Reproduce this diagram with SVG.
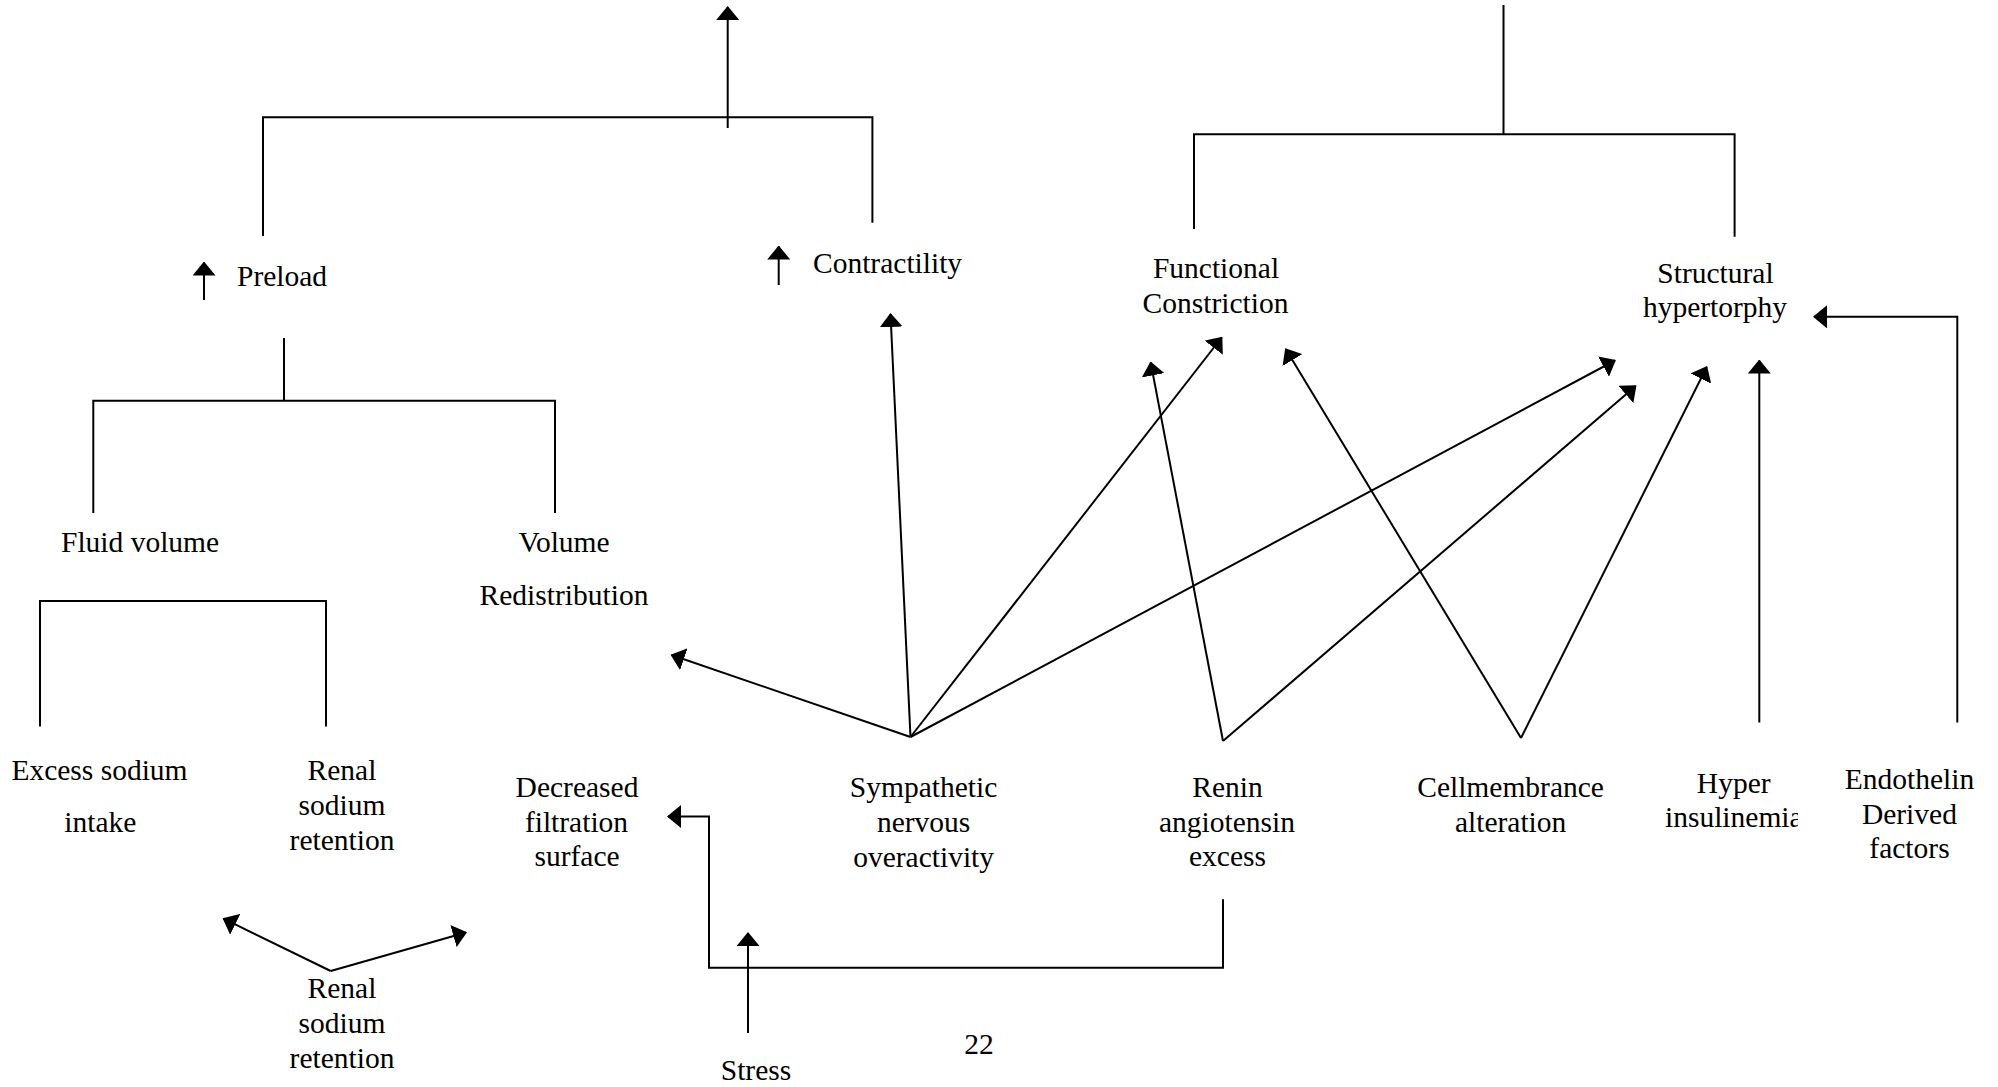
<svg xmlns="http://www.w3.org/2000/svg" width="1998" height="1087" viewBox="0 0 1998 1087">
<style>
text{font-family:"Liberation Serif","Times New Roman",serif;font-size:29.5px;fill:#000}
.m{text-anchor:middle}
.ln{fill:none;stroke:#000;stroke-width:2}
.ar{fill:none;stroke:#000;stroke-width:2;marker-end:url(#ah)}
</style>
<defs>
<marker id="ah" viewBox="0 0 14 23" refX="13" refY="11.5" markerWidth="14" markerHeight="23" markerUnits="userSpaceOnUse" orient="auto">
<path d="M0,0 L14,11.5 L0,23 Z" fill="#000"/>
</marker>
<clipPath id="clipHyper"><rect x="1600" y="760" width="198" height="90"/></clipPath>
</defs>
<rect width="1998" height="1087" fill="#fff"/>
<g id="connectors">
<path class="ar" d="M727.7,128 V7"/>
<path class="ln" d="M263,236 V117.3 H872.4 V222.7"/>
<path class="ar" d="M204,300 V262.5"/>
<path class="ar" d="M778.7,285 V246.5"/>
<path class="ln" d="M284,338 V400.7"/>
<path class="ln" d="M93.3,513 V400.7 H555 V513"/>
<path class="ln" d="M40,726.5 V601 H326 V726.5"/>
<path class="ln" d="M1503.5,5 V134.3"/>
<path class="ln" d="M1194,229 V134.3 H1734.6 V236.7"/>
<path class="ar" d="M1957.3,722.6 V316.8 H1814"/>
<path class="ar" d="M1759.3,722.6 V360.5"/>
<path class="ar" d="M910.5,737 L671.5,655"/>
<path class="ar" d="M910.5,737 L890.5,314"/>
<path class="ar" d="M910.5,737 L1221.7,337.5"/>
<path class="ar" d="M910.5,737 L1615,360.5"/>
<path class="ar" d="M1223,741 L1150.7,362.5"/>
<path class="ar" d="M1223,741 L1635.7,386"/>
<path class="ar" d="M1521,738 L1285.7,349"/>
<path class="ar" d="M1521,738 L1706.7,367"/>
<path class="ar" d="M1223,899.3 V967.7 H709 V816.5 H668"/>
<path class="ar" d="M748,1033 V933"/>
<path class="ar" d="M330.7,971 L223.5,918.7"/>
<path class="ar" d="M330.7,971 L466,932.5"/>
</g>
<g id="node-preload"><text x="237" y="286">Preload</text></g>
<g id="node-contractility"><text x="813" y="273">Contractility</text></g>
<g id="node-functional"><text class="m" x="1216" y="278">Functional</text><text class="m" x="1215.5" y="313">Constriction</text></g>
<g id="node-structural"><text class="m" x="1715.5" y="283">Structural</text><text class="m" x="1715" y="317">hypertorphy</text></g>
<g id="node-fluid"><text x="61" y="552">Fluid volume</text></g>
<g id="node-volume"><text class="m" x="564" y="552">Volume</text><text class="m" x="564" y="605">Redistribution</text></g>
<g id="node-excess"><text class="m" x="99.5" y="780">Excess sodium</text><text class="m" x="100.3" y="831.7">intake</text></g>
<g id="node-renal1"><text class="m" x="342" y="780">Renal</text><text class="m" x="342" y="815">sodium</text><text class="m" x="342" y="850">retention</text></g>
<g id="node-decreased"><text class="m" x="577" y="797">Decreased</text><text class="m" x="576.5" y="832">filtration</text><text class="m" x="577" y="866">surface</text></g>
<g id="node-sympathetic"><text class="m" x="923.6" y="797">Sympathetic</text><text class="m" x="923.6" y="832">nervous</text><text class="m" x="923.6" y="866.5">overactivity</text></g>
<g id="node-renin"><text class="m" x="1227.5" y="797">Renin</text><text class="m" x="1227" y="832">angiotensin</text><text class="m" x="1227.5" y="866">excess</text></g>
<g id="node-cell"><text class="m" x="1510.6" y="797">Cellmembrance</text><text class="m" x="1510.6" y="832">alteration</text></g>
<g id="node-hyper"><text class="m" x="1733.7" y="793">Hyper</text><text x="1665" y="826.5" clip-path="url(#clipHyper)">insulinemia</text></g>
<g id="node-endothelin"><text class="m" x="1909.5" y="789">Endothelin</text><text class="m" x="1909.4" y="824">Derived</text><text class="m" x="1909.5" y="857.5">factors</text></g>
<g id="node-renal2"><text class="m" x="342" y="998">Renal</text><text class="m" x="342" y="1033">sodium</text><text class="m" x="342" y="1068">retention</text></g>
<g id="node-stress"><text class="m" x="756" y="1080">Stress</text></g>
<g id="page-number"><text class="m" x="979" y="1054">22</text></g>
</svg>
